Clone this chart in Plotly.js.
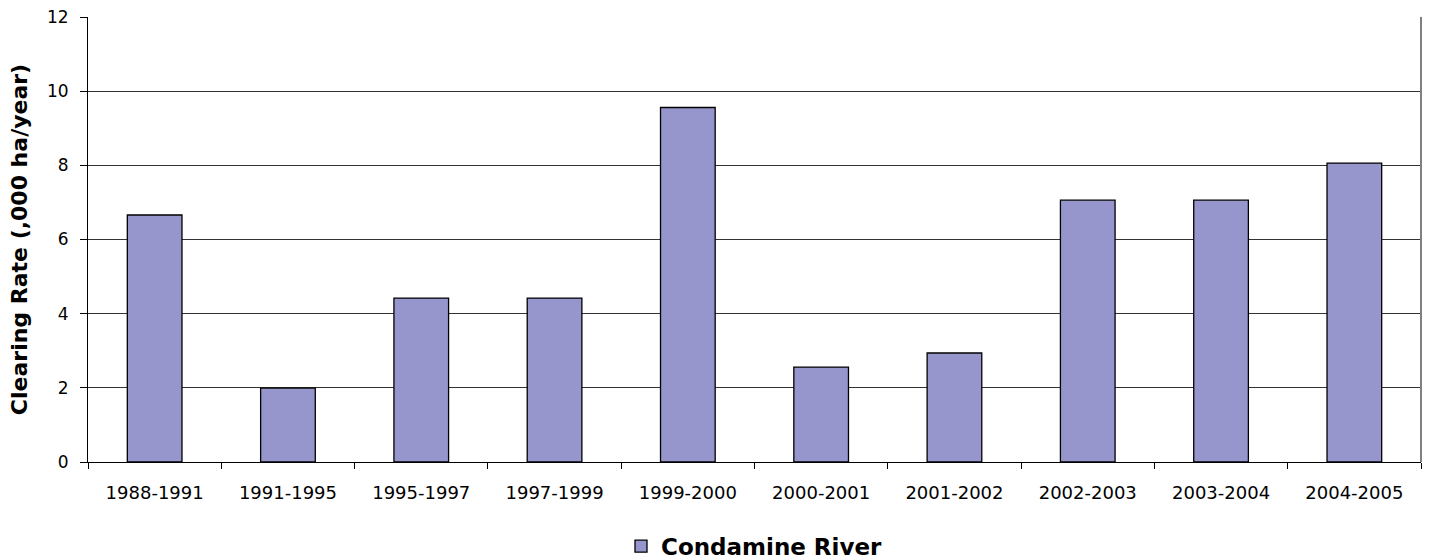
<!DOCTYPE html>
<html>
<head>
<meta charset="utf-8">
<script src="https://cdn.plot.ly/plotly-3.0.1.min.js"></script>
<style>html,body{margin:0;padding:0;background:#fff;}#chart{width:1430px;height:559px;}</style>
</head>
<body>
<div id="chart"></div>
<script>
const periods = ["1988-1991","1991-1995","1995-1997","1997-1999","1999-2000","2000-2001","2001-2002","2002-2003","2003-2004","2004-2005"];
const clearingRate = [6.66, 1.99, 4.42, 4.42, 9.56, 2.56, 2.94, 7.06, 7.06, 8.06];
const seriesName = "Condamine River";
const yTicks = [0, 2, 4, 6, 8, 10, 12];

const FONT = "DejaVu Sans, Liberation Sans, Arial, sans-serif";

const trace = {
  type: "bar",
  x: periods,
  y: clearingRate,
  name: seriesName,
  marker: {color: "#9696cc", line: {color: "#000000", width: 1.3}},
  showlegend: true,
  hoverinfo: "x+y"
};

const layout = {
  width: 1430, height: 559,
  margin: {l: 88, r: 9, t: 17, b: 97, autoexpand: false},
  paper_bgcolor: "#ffffff", plot_bgcolor: "#ffffff",
  font: {family: FONT, color: "#000000", size: 17},
  bargap: 0.59,
  showlegend: true,
  legend: {orientation: "h", x: 0.5, xanchor: "center", y: -0.141, yanchor: "top",
           font: {size: 23, family: FONT, weight: "bold"}},
  xaxis: {
    type: "category",
    showline: true, linecolor: "#000000", linewidth: 1,
    ticks: "outside", tickson: "boundaries", ticklen: 6, tickcolor: "#000000",
    ticklabelstandoff: 14,
    showgrid: false, zeroline: false,
    tickfont: {size: 18}
  },
  yaxis: {
    range: [0, 12], tickvals: yTicks,
    showline: true, linecolor: "#000000", linewidth: 1,
    ticks: "outside", ticklen: 7, tickcolor: "#000000",
    ticklabelstandoff: 8,
    showgrid: true, gridcolor: "#333333", gridwidth: 1,
    zeroline: false,
    tickfont: {size: 17},
    title: {text: "Clearing Rate (,000 ha/year)", font: {size: 22, weight: "bold"}, standoff: 13}
  },
  shapes: [
    {type: "line", xref: "paper", yref: "paper", x0: 1, x1: 1, y0: 0, y1: 1, line: {color: "#808080", width: 2}}
  ]
};

Plotly.newPlot("chart", [trace], layout, {displayModeBar: false, staticPlot: true});
</script>
</body>
</html>
